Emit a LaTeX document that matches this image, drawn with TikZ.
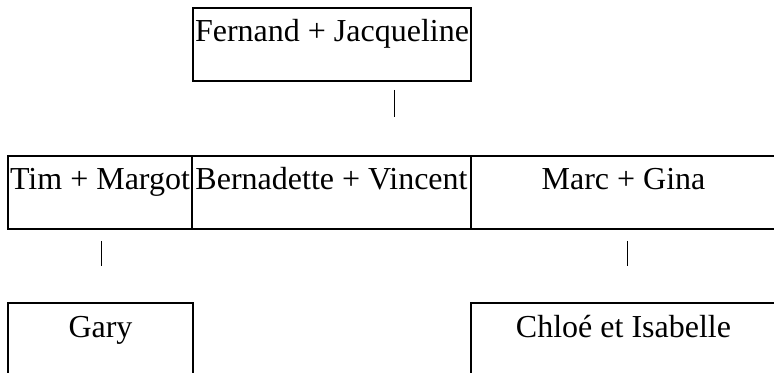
\documentclass[tikz,border=0pt]{standalone}
\usepackage{fontspec}
\setmainfont{Liberation Serif}
\usetikzlibrary{calc,positioning}

\begin{document}
\begin{tikzpicture}[
            x=0.5pt,y=-0.5pt,
            every node/.append style={font=\fontsize{16}{19}\selectfont,inner sep=0pt,outer sep=0pt,text height=17pt,text depth=19.5pt},
            cell/.style={draw,line width=0.85pt,anchor=north west},
            bar/.style={line width=0.5pt}
        ]
            \useasboundingbox (0,0) rectangle (774,373);

            \node[cell,minimum width=139pt] (fj) at (193,8) {Fernand + Jacqueline};

            \node[cell,minimum width=92pt] (tm) at (8,156) {Tim + Margot};
            \node[cell,minimum width=139.5pt,anchor=west,right=0pt of tm] (bv) {Bernadette + Vincent};
            \node[cell,minimum width=152.5pt,anchor=west,right=0pt of bv] (mg) {Marc + Gina};

            \node[cell,minimum width=92.5pt] (gary) at (8,303) {Gary};
            \node[cell,minimum width=152.5pt] (ci) at (471,303) {Chloé et Isabelle};

            \coordinate (fjbar) at (394,90);
            \coordinate (tmbar) at (101,241);
            \coordinate (mgbar) at (627,241);

            \draw[bar] (fjbar) -- ($(fjbar)+(0,27)$);
            \draw[bar] (tmbar) -- ($(tmbar)+(0,25)$);
            \draw[bar] (mgbar) -- ($(mgbar)+(0,25)$);
        \end{tikzpicture}
\end{document}
